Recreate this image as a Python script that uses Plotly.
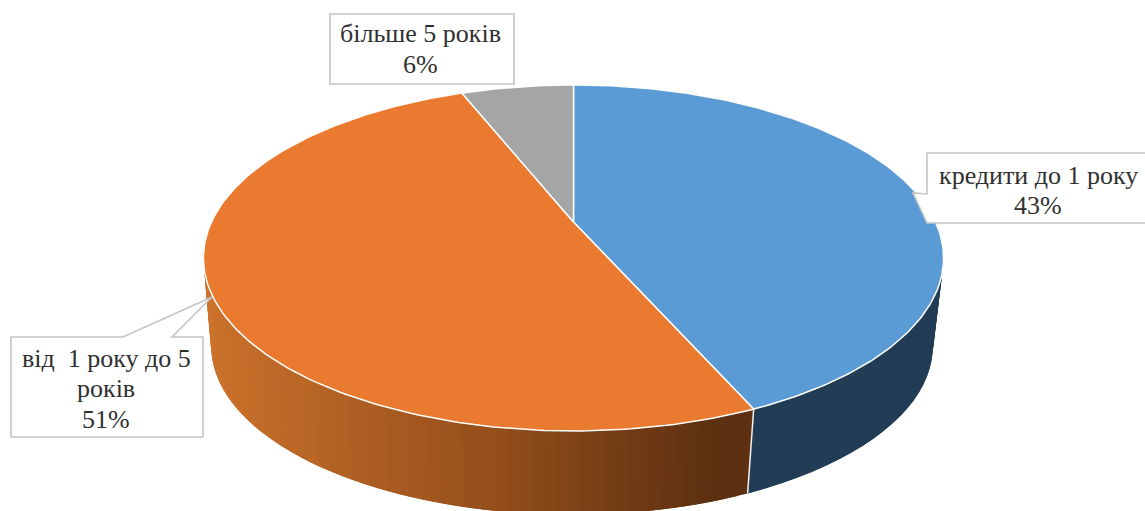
import numpy as np
import plotly.graph_objects as go

# Data
categories = ["кредити до 1 року", "від  1 року до 5 років", "більше 5 років"]
values = [43.4, 50.6, 6.0]
label_lines = [["кредити до 1 року"], ["від  1 року до 5", "років"], ["більше 5 років"]]

# Style
top_colors = ["#5b9bd5", "#ea7a2f", "#a5a5a5"]
FONT = "Liberation Serif"

# Projection of the pie disc on to the page
CX, CY, A, B, K = 573.5, 222.0, 362.0, 165.5, 0.208
DEPTH, LOWER, SHIFT = 89.0, 0.975, -1.5


def project(theta, scale=1.0, dy=0.0, dx=0.0):
    u, v = np.sin(theta), np.cos(theta)
    w = 1 + K * v
    return CX + dx + scale * A * u / w, CY + dy + scale * B * (-v) / w


def lerp_color(x):
    stops_x = [205, 490, 725]
    r = np.interp(x, stops_x, [0xCC, 0x97, 0x5C])
    g = np.interp(x, stops_x, [0x72, 0x50, 0x30])
    b = np.interp(x, stops_x, [0x2C, 0x1C, 0x10])
    return f"rgb({int(r)},{int(g)},{int(b)})"


total = sum(values)
edges = np.concatenate([[0], np.cumsum(values)]) / total * 2 * np.pi

fig = go.Figure()


def poly(xs, ys, fill, line=None, width=0.0):
    fig.add_trace(go.Scatter(
        x=xs, y=ys, mode="lines", fill="toself", fillcolor=fill,
        line=dict(color=line or fill, width=width), hoverinfo="skip", showlegend=False,
    ))


def side_strips(start, stop, n, color_of):
    """Wall of one sector as overlapping quads, so the outline stays tangent."""
    t = np.linspace(start, stop, n + 1)
    for i in range(n):
        tt = t[i:i + 3]
        x1, y1 = project(tt)
        x2, y2 = project(tt, LOWER, DEPTH, SHIFT)
        poly(np.r_[x1, x2[::-1]], np.r_[y1, y2[::-1]], color_of(x1[0]))


# Sides: blue sector in one flat dark shade, orange shaded from left to right
side_strips(edges[0], edges[1], 60, lambda x: "#213c54")
side_strips(edges[1], edges[2], 120, lerp_color)

# White seam between the orange and blue sides
x1, y1 = project(edges[1])
x2, y2 = project(edges[1], LOWER, DEPTH, SHIFT)
fig.add_trace(go.Scatter(x=[x1, x2], y=[y1, y2], mode="lines",
                         line=dict(color="#f4f0ec", width=1.5),
                         hoverinfo="skip", showlegend=False))

# Top face
for i, col in enumerate(top_colors):
    t = np.linspace(edges[i], edges[i + 1], 200)
    x, y = project(t)
    poly(np.r_[CX, x, CX], np.r_[CY, y, CY], col, "#ffffff", 1.5)

# Label boxes with callouts
boxes = [
    "M1150,153 L927,153 L927,194 L913,193 L927,223 L1150,223 Z",
    "M11,337 L123,337 L212,297 L172,337 L203,337 L203,437 L11,437 Z",
    "M330,14 L514,14 L514,84 L330,84 Z",
]
shapes = [dict(type="path", path=p, xref="x", yref="y", fillcolor="#ffffff",
               line=dict(color="#c4c4c4", width=1.6), layer="above") for p in boxes]

# Label text (one annotation per line)
anchors = [(1038, 175, 30), (106, 358, 30.5), (420, 33, 31)]
annotations = []
for i, lines in enumerate(label_lines):
    ax, ay, step = anchors[i]
    rows = lines + [f"{round(values[i] / total * 100)}%"]
    for j, row in enumerate(rows):
        annotations.append(dict(
            x=ax, y=ay + j * step, xref="x", yref="y", text=row, showarrow=False,
            xanchor="center", yanchor="middle",
            font=dict(family=FONT, size=26, color="#303030"),
        ))

fig.update_layout(
    width=1145, height=511, autosize=False,
    margin=dict(l=0, r=0, t=0, b=0),
    paper_bgcolor="#ffffff", plot_bgcolor="#ffffff",
    showlegend=False, shapes=shapes, annotations=annotations,
    xaxis=dict(range=[0, 1145], visible=False, fixedrange=True),
    yaxis=dict(range=[511, 0], visible=False, fixedrange=True),
)
fig.write_html(
    "out.html",
    config={"displayModeBar": False},
    post_script="document.body.style.margin='0';document.documentElement.style.overflow='hidden';",
)
